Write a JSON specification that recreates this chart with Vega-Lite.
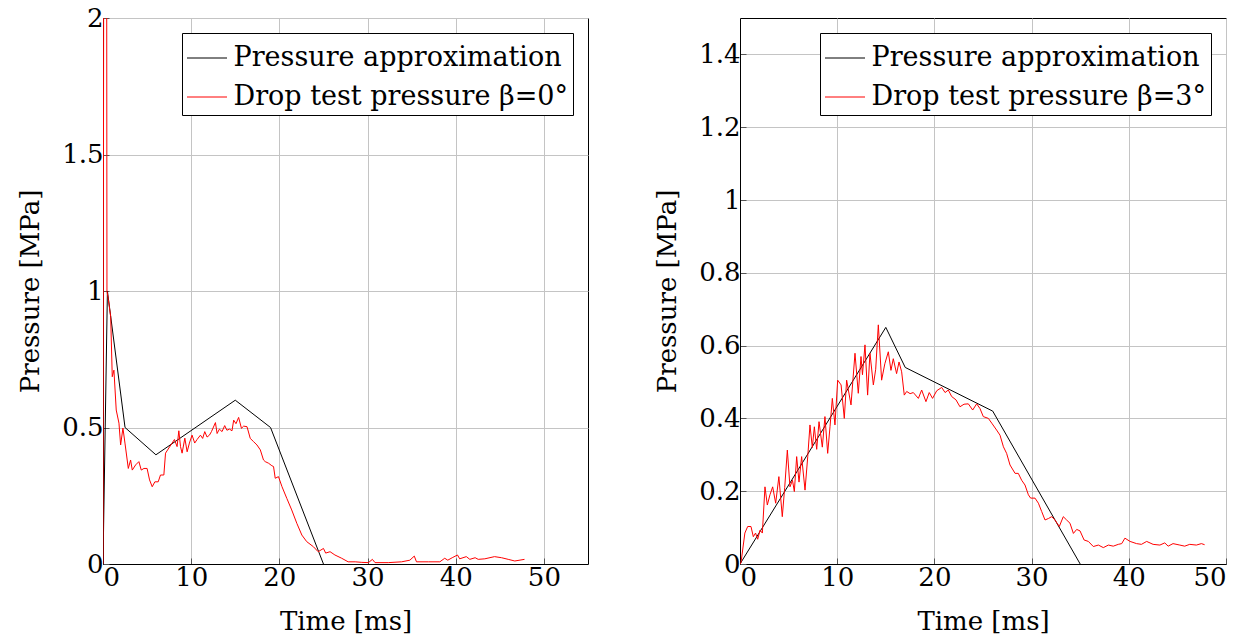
{
  "$schema": "https://vega.github.io/schema/vega-lite/v6.json",
  "background": "white",
  "padding": {"left": 17, "top": 4, "right": 10, "bottom": 2},
  "config": {
    "font": "DejaVu Serif",
    "view": {"stroke": "black", "strokeWidth": 1},
    "axis": {
      "labelFontSize": 26, "titleFontSize": 26, "labelColor": "black", "titleColor": "black",
      "titleFontWeight": "normal", "gridColor": "#c4c4c4", "gridWidth": 1, "domainColor": "black",
      "tickColor": "#555555", "tickSize": -6, "labelPadding": 6, "labelFont": "DejaVu Serif", "titleFont": "DejaVu Serif"
    },
    "axisX": {"titlePadding": 18},
    "axisY": {"titlePadding": 18},
    "legend": {
      "orient": "top-right", "offset": 15, "strokeColor": "black", "fillColor": "white", "padding": 4.5,
      "labelFontSize": 27, "labelFont": "DejaVu Serif", "labelColor": "black", "symbolType": "stroke", "symbolSize": 1600,
      "symbolStrokeWidth": 1, "rowPadding": 5, "labelOffset": 6, "labelLimit": 0, "title": null, "cornerRadius": 0
    }
  },
  "datasets": {
    "leftApprox": [
      {"t": 0, "p": 0}, {"t": 0.5, "p": 1.0}, {"t": 2.5, "p": 0.5}, {"t": 6, "p": 0.4},
      {"t": 15, "p": 0.6}, {"t": 19, "p": 0.5}, {"t": 25, "p": 0}
    ],
    "leftDrop": [
      {"t": 0, "p": 0}, {"t": 0.1, "p": 2.8}, {"t": 0.4, "p": 2.8}, {"t": 0.45, "p": 1.0}, {"t": 0.6, "p": 0.97},
      {"t": 0.87, "p": 0.906}, {"t": 1.05, "p": 0.686}, {"t": 1.24, "p": 0.71}, {"t": 1.5, "p": 0.564},
      {"t": 1.81, "p": 0.516}, {"t": 2.0, "p": 0.436}, {"t": 2.26, "p": 0.498}, {"t": 2.49, "p": 0.443},
      {"t": 2.87, "p": 0.35}, {"t": 3.13, "p": 0.381}, {"t": 3.32, "p": 0.344}, {"t": 3.7, "p": 0.363},
      {"t": 4.07, "p": 0.375}, {"t": 4.34, "p": 0.344}, {"t": 4.64, "p": 0.35}, {"t": 5.0, "p": 0.35},
      {"t": 5.28, "p": 0.308}, {"t": 5.58, "p": 0.283}, {"t": 5.88, "p": 0.301}, {"t": 6.26, "p": 0.301},
      {"t": 6.52, "p": 0.326}, {"t": 6.9, "p": 0.326}, {"t": 7.09, "p": 0.406}, {"t": 7.47, "p": 0.425},
      {"t": 7.84, "p": 0.443}, {"t": 8.1, "p": 0.456}, {"t": 8.4, "p": 0.43}, {"t": 8.6, "p": 0.488},
      {"t": 8.79, "p": 0.43}, {"t": 8.97, "p": 0.406}, {"t": 9.28, "p": 0.461}, {"t": 9.54, "p": 0.411},
      {"t": 9.8, "p": 0.443}, {"t": 10.1, "p": 0.472}, {"t": 10.4, "p": 0.443}, {"t": 10.67, "p": 0.456},
      {"t": 11.05, "p": 0.472}, {"t": 11.3, "p": 0.46}, {"t": 11.54, "p": 0.485}, {"t": 11.8, "p": 0.465},
      {"t": 12.07, "p": 0.472}, {"t": 12.3, "p": 0.485}, {"t": 12.75, "p": 0.518}, {"t": 12.94, "p": 0.478},
      {"t": 13.2, "p": 0.494}, {"t": 13.5, "p": 0.485}, {"t": 13.8, "p": 0.507}, {"t": 14.05, "p": 0.49},
      {"t": 14.35, "p": 0.494}, {"t": 14.63, "p": 0.488}, {"t": 14.82, "p": 0.527}, {"t": 15.08, "p": 0.514},
      {"t": 15.38, "p": 0.537}, {"t": 15.7, "p": 0.497}, {"t": 15.95, "p": 0.505}, {"t": 16.33, "p": 0.503},
      {"t": 16.7, "p": 0.46}, {"t": 17.08, "p": 0.448}, {"t": 17.46, "p": 0.436}, {"t": 17.84, "p": 0.418},
      {"t": 18.2, "p": 0.381}, {"t": 18.4, "p": 0.375}, {"t": 18.78, "p": 0.369}, {"t": 19.15, "p": 0.36},
      {"t": 19.34, "p": 0.357}, {"t": 19.53, "p": 0.314}, {"t": 19.9, "p": 0.32}, {"t": 20.3, "p": 0.283},
      {"t": 20.85, "p": 0.24}, {"t": 21.4, "p": 0.198}, {"t": 21.98, "p": 0.149}, {"t": 22.55, "p": 0.106},
      {"t": 23.1, "p": 0.082}, {"t": 23.87, "p": 0.063}, {"t": 24.4, "p": 0.045}, {"t": 25.0, "p": 0.057},
      {"t": 25.25, "p": 0.04}, {"t": 25.75, "p": 0.045}, {"t": 26.3, "p": 0.033}, {"t": 27.07, "p": 0.021},
      {"t": 27.8, "p": 0.008}, {"t": 28.6, "p": 0.008}, {"t": 29.35, "p": 0.006}, {"t": 30.1, "p": 0.005},
      {"t": 30.55, "p": 0.017}, {"t": 30.85, "p": 0.005}, {"t": 32.35, "p": 0.005}, {"t": 33.86, "p": 0.008},
      {"t": 34.8, "p": 0.014}, {"t": 35.3, "p": 0.029}, {"t": 35.55, "p": 0.008}, {"t": 36.9, "p": 0.008},
      {"t": 38.2, "p": 0.008}, {"t": 38.75, "p": 0.021}, {"t": 39.1, "p": 0.014}, {"t": 39.6, "p": 0.023},
      {"t": 40.2, "p": 0.033}, {"t": 40.45, "p": 0.019}, {"t": 41.2, "p": 0.027}, {"t": 41.6, "p": 0.017},
      {"t": 42.2, "p": 0.023}, {"t": 42.55, "p": 0.017}, {"t": 43.3, "p": 0.019}, {"t": 44.4, "p": 0.027},
      {"t": 45.2, "p": 0.023}, {"t": 45.95, "p": 0.017}, {"t": 46.7, "p": 0.011}, {"t": 47.8, "p": 0.017}
    ],
    "rightApprox": [
      {"t": 0, "p": 0}, {"t": 15, "p": 0.65}, {"t": 17, "p": 0.54}, {"t": 26, "p": 0.42}, {"t": 35, "p": 0}
    ],
    "rightDrop": [
      {"t": 0, "p": 0}, {"t": 0.1, "p": 0.003}, {"t": 0.5, "p": 0.085}, {"t": 0.79, "p": 0.103}, {"t": 1.13, "p": 0.103},
      {"t": 1.37, "p": 0.075}, {"t": 1.6, "p": 0.085}, {"t": 1.82, "p": 0.068}, {"t": 2.06, "p": 0.093},
      {"t": 2.3, "p": 0.085}, {"t": 2.57, "p": 0.212}, {"t": 2.81, "p": 0.162}, {"t": 3.08, "p": 0.19},
      {"t": 3.36, "p": 0.212}, {"t": 3.67, "p": 0.167}, {"t": 4.0, "p": 0.24}, {"t": 4.35, "p": 0.13},
      {"t": 4.6, "p": 0.21}, {"t": 4.87, "p": 0.313}, {"t": 5.14, "p": 0.212}, {"t": 5.4, "p": 0.23},
      {"t": 5.59, "p": 0.199}, {"t": 5.83, "p": 0.295}, {"t": 6.07, "p": 0.225}, {"t": 6.34, "p": 0.295},
      {"t": 6.69, "p": 0.203}, {"t": 6.97, "p": 0.295}, {"t": 7.2, "p": 0.382}, {"t": 7.44, "p": 0.32},
      {"t": 7.65, "p": 0.377}, {"t": 7.89, "p": 0.315}, {"t": 8.13, "p": 0.391}, {"t": 8.47, "p": 0.321},
      {"t": 8.74, "p": 0.405}, {"t": 9.02, "p": 0.304}, {"t": 9.26, "p": 0.377}, {"t": 9.5, "p": 0.455},
      {"t": 9.77, "p": 0.382}, {"t": 10.05, "p": 0.505}, {"t": 10.4, "p": 0.492}, {"t": 10.73, "p": 0.4},
      {"t": 10.97, "p": 0.505}, {"t": 11.42, "p": 0.437}, {"t": 11.83, "p": 0.579}, {"t": 12.17, "p": 0.469},
      {"t": 12.45, "p": 0.57}, {"t": 12.6, "p": 0.52}, {"t": 12.86, "p": 0.602}, {"t": 13.13, "p": 0.464},
      {"t": 13.37, "p": 0.579}, {"t": 13.72, "p": 0.492}, {"t": 13.96, "p": 0.535}, {"t": 14.23, "p": 0.657},
      {"t": 14.57, "p": 0.505}, {"t": 14.9, "p": 0.55}, {"t": 15.26, "p": 0.583}, {"t": 15.53, "p": 0.532},
      {"t": 15.77, "p": 0.564}, {"t": 16.11, "p": 0.523}, {"t": 16.36, "p": 0.555}, {"t": 16.63, "p": 0.528},
      {"t": 16.9, "p": 0.464}, {"t": 17.15, "p": 0.474}, {"t": 17.5, "p": 0.468}, {"t": 17.83, "p": 0.471},
      {"t": 18.35, "p": 0.455}, {"t": 18.69, "p": 0.478}, {"t": 19.13, "p": 0.446}, {"t": 19.47, "p": 0.471},
      {"t": 19.81, "p": 0.455}, {"t": 20.24, "p": 0.476}, {"t": 20.75, "p": 0.485}, {"t": 21.1, "p": 0.471},
      {"t": 21.43, "p": 0.478}, {"t": 21.78, "p": 0.46}, {"t": 22.22, "p": 0.451}, {"t": 22.63, "p": 0.432},
      {"t": 23.05, "p": 0.439}, {"t": 23.49, "p": 0.44}, {"t": 23.94, "p": 0.423}, {"t": 24.35, "p": 0.44},
      {"t": 24.69, "p": 0.427}, {"t": 25.03, "p": 0.405}, {"t": 25.55, "p": 0.4}, {"t": 25.9, "p": 0.387},
      {"t": 26.4, "p": 0.368}, {"t": 26.75, "p": 0.354}, {"t": 27.1, "p": 0.322}, {"t": 27.43, "p": 0.304},
      {"t": 27.78, "p": 0.272}, {"t": 28.3, "p": 0.249}, {"t": 28.63, "p": 0.249}, {"t": 28.98, "p": 0.23},
      {"t": 29.32, "p": 0.217}, {"t": 29.67, "p": 0.19}, {"t": 29.9, "p": 0.181}, {"t": 30.35, "p": 0.181},
      {"t": 30.7, "p": 0.167}, {"t": 31.04, "p": 0.144}, {"t": 31.38, "p": 0.121}, {"t": 31.73, "p": 0.125},
      {"t": 32.07, "p": 0.13}, {"t": 32.4, "p": 0.121}, {"t": 32.85, "p": 0.103}, {"t": 33.26, "p": 0.13},
      {"t": 33.6, "p": 0.121}, {"t": 33.95, "p": 0.112}, {"t": 34.3, "p": 0.084}, {"t": 34.64, "p": 0.095},
      {"t": 34.98, "p": 0.091}, {"t": 35.4, "p": 0.066}, {"t": 35.84, "p": 0.062}, {"t": 36.35, "p": 0.048},
      {"t": 36.87, "p": 0.052}, {"t": 37.38, "p": 0.045}, {"t": 37.9, "p": 0.052}, {"t": 38.4, "p": 0.049},
      {"t": 38.92, "p": 0.054}, {"t": 39.27, "p": 0.056}, {"t": 39.6, "p": 0.071}, {"t": 40.13, "p": 0.062},
      {"t": 40.8, "p": 0.056}, {"t": 41.3, "p": 0.054}, {"t": 41.84, "p": 0.062}, {"t": 42.5, "p": 0.054},
      {"t": 43.2, "p": 0.052}, {"t": 43.7, "p": 0.058}, {"t": 44.05, "p": 0.049}, {"t": 44.55, "p": 0.056},
      {"t": 45.25, "p": 0.052}, {"t": 45.75, "p": 0.049}, {"t": 46.27, "p": 0.054}, {"t": 46.95, "p": 0.052},
      {"t": 47.47, "p": 0.056}, {"t": 47.8, "p": 0.053}
    ]
  },
  "spacing": 65,
  "hconcat": [
    {
      "width": 485, "height": 546,
      "encoding": {
        "x": {"field": "t", "type": "quantitative", "title": "Time [ms]",
          "scale": {"domain": [0, 55], "nice": false, "zero": false},
          "axis": {"values": [0, 10, 20, 30, 40, 50], "format": "~r"}},
        "y": {"field": "p", "type": "quantitative", "title": "Pressure [MPa]",
          "scale": {"domain": [0, 2], "nice": false},
          "axis": {"values": [0, 0.5, 1, 1.5, 2], "format": "~r"}},
        "color": {"datum": "Pressure approximation", "type": "nominal",
          "scale": {"domain": ["Pressure approximation", "Drop test pressure β=0°"], "range": ["black", "red"]}}
      },
      "layer": [
        {"data": {"name": "leftApprox"}, "mark": {"type": "line", "clip": true, "strokeWidth": 1}},
        {"data": {"name": "leftDrop"}, "mark": {"type": "line", "clip": true, "strokeWidth": 1},
          "encoding": {"color": {"datum": "Drop test pressure β=0°", "type": "nominal"}}}
      ]
    },
    {
      "width": 486, "height": 546,
      "encoding": {
        "x": {"field": "t", "type": "quantitative", "title": "Time [ms]",
          "scale": {"domain": [0, 50], "nice": false, "zero": false},
          "axis": {"values": [0, 10, 20, 30, 40, 50], "format": "~r"}},
        "y": {"field": "p", "type": "quantitative", "title": "Pressure [MPa]",
          "scale": {"domain": [0, 1.5], "nice": false},
          "axis": {"values": [0, 0.2, 0.4, 0.6, 0.8, 1, 1.2, 1.4], "format": "~r"}},
        "color": {"datum": "Pressure approximation", "type": "nominal",
          "scale": {"domain": ["Pressure approximation", "Drop test pressure β=3°"], "range": ["black", "red"]}}
      },
      "layer": [
        {"data": {"name": "rightApprox"}, "mark": {"type": "line", "clip": true, "strokeWidth": 1}},
        {"data": {"name": "rightDrop"}, "mark": {"type": "line", "clip": true, "strokeWidth": 1},
          "encoding": {"color": {"datum": "Drop test pressure β=3°", "type": "nominal"}}}
      ]
    }
  ],
  "resolve": {"scale": {"color": "independent", "x": "independent", "y": "independent"}, "legend": {"color": "independent"}}
}
